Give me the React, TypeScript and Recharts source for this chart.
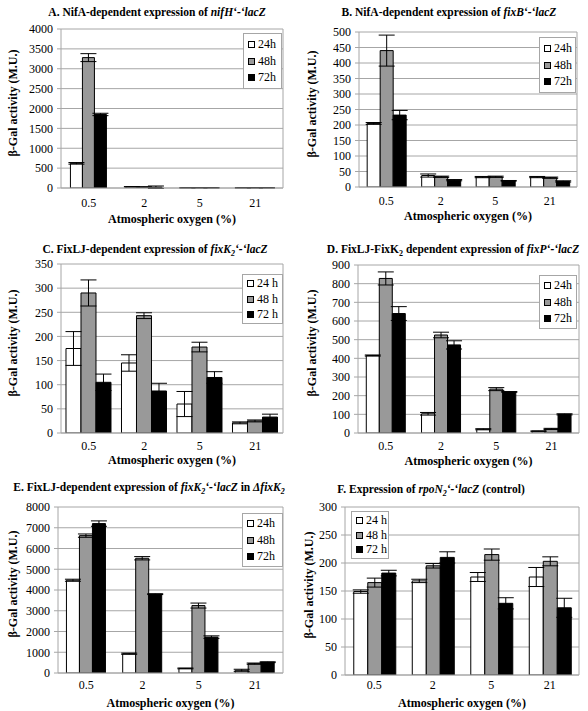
import React from 'react';
import { BarChart, Bar, XAxis, YAxis, CartesianGrid, ErrorBar } from 'recharts';

const categories = ['0.5', '2', '5', '21'];

// Panel A: nifH'-'lacZ
const a24 = [620, 30, 5, 5];
const a48 = [3280, 25, 5, 5];
const a72 = [1850, 20, 5, 5];
const aE24 = [20, 5, 2, 2];
const aE48 = [100, 5, 2, 2];
const aE72 = [30, 30, 2, 2];
const aTicks = [0, 500, 1000, 1500, 2000, 2500, 3000, 3500, 4000];

// Panel B: fixB'-'lacZ
const b24 = [205, 37, 32, 32];
const b48 = [440, 33, 33, 30];
const b72 = [232, 22, 20, 18];
const bE24 = [3, 5, 2, 2];
const bE48 = [50, 2, 2, 2];
const bE72 = [15, 2, 1, 2];
const bTicks = [0, 50, 100, 150, 200, 250, 300, 350, 400, 450, 500];

// Panel C: fixK2'-'lacZ
const c24 = [175, 145, 60, 21];
const c48 = [290, 243, 178, 25];
const c72 = [105, 87, 115, 33];
const cE24 = [35, 17, 26, 2];
const cE48 = [27, 6, 10, 2];
const cE72 = [17, 16, 12, 6];
const cTicks = [0, 50, 100, 150, 200, 250, 300, 350];

// Panel D: fixP'-'lacZ
const d24 = [415, 103, 20, 10];
const d48 = [828, 525, 235, 22];
const d72 = [640, 472, 220, 100];
const dE24 = [3, 7, 3, 1];
const dE48 = [35, 15, 8, 3];
const dE72 = [37, 22, 2, 3];
const dTicks = [0, 100, 200, 300, 400, 500, 600, 700, 800, 900];

// Panel E: fixK2'-'lacZ in deltafixK2
const e24 = [4470, 930, 220, 130];
const e48 = [6620, 5530, 3250, 450];
const e72 = [7200, 3800, 1730, 520];
const eE24 = [50, 30, 20, 50];
const eE48 = [80, 80, 120, 30];
const eE72 = [130, 20, 60, 20];
const eTicks = [0, 1000, 2000, 3000, 4000, 5000, 6000, 7000, 8000];

// Panel F: rpoN2'-'lacZ
const f24 = [149, 168, 175, 175];
const f48 = [165, 195, 215, 203];
const f72 = [182, 210, 128, 120];
const fE24 = [3, 3, 8, 17];
const fE48 = [8, 4, 10, 8];
const fE72 = [5, 10, 10, 17];
const fTicks = [0, 50, 100, 150, 200, 250, 300];

const labelsNoSpace = ['24h', '48h', '72h'];
const labelsSpace = ['24 h', '48 h', '72 h'];

const FONT = "'Liberation Serif', 'Times New Roman', serif";
const GRID = '#a6a6a6';
const COLORS = ['#ffffff', '#999999', '#000000'];

function build(v24: number[], v48: number[], v72: number[], e24_: number[], e48_: number[], e72_: number[]) {
  return categories.map((c, i) => ({
    cat: c,
    h24: v24[i], h48: v48[i], h72: v72[i],
    e24: e24_[i], e48: e48_[i], e72: e72_[i],
  }));
}

type PanelProps = {
  px: number; py: number;
  pl: number; pt: number; pr: number; pb: number;
  ticks: number[];
  data: any[];
  gap: string;
  title: React.ReactNode;
  titleX: number; titleY: number;
  yLabelX: number;
  xTickMargin: number;
  xLabelY: number;
  legend: { l: number; t: number; r: number; b: number; labels: string[] };
};

const tickStyle = { fill: '#000', fontSize: 12, fontFamily: FONT };

function Panel(p: PanelProps) {
  const w = p.pr - p.px + 6;
  const h = p.pb - p.py + 30;
  const max = p.ticks[p.ticks.length - 1];
  return (
    <>
      <div style={{ position: 'absolute', left: p.titleX, top: p.titleY, transform: 'translate(-50%,-50%)', whiteSpace: 'nowrap', fontWeight: 'bold', fontSize: 11.5, lineHeight: '13px' }}>
        {p.title}
      </div>
      <div style={{ position: 'absolute', left: p.px, top: p.py }}>
        <BarChart width={w} height={h} data={p.data} style={{ fontFamily: FONT }} margin={{ top: p.pt - p.py, right: 5, left: 0, bottom: 0 }} barCategoryGap={p.gap} barGap={0}>
          <CartesianGrid horizontal vertical={false} stroke={GRID} />
          <XAxis dataKey="cat" height={30} tickLine={false} tickSize={0} tickMargin={p.xTickMargin} axisLine={{ stroke: GRID }} tick={tickStyle} interval={0} />
          <YAxis width={p.pl - p.px} domain={[0, max]} ticks={p.ticks} interval={0} tickSize={4} tickMargin={4} tickLine={{ stroke: GRID }} axisLine={{ stroke: GRID }} tick={tickStyle} allowDataOverflow />
          <YAxis yAxisId="frame" orientation="right" width={1} tick={false} tickLine={false} axisLine={{ stroke: GRID }} />
          <Bar dataKey="h24" fill={COLORS[0]} stroke="#000" strokeWidth={1} isAnimationActive={false}>
            <ErrorBar dataKey="e24" width={8} stroke="#000" strokeWidth={1} direction="y" />
          </Bar>
          <Bar dataKey="h48" fill={COLORS[1]} stroke="#000" strokeWidth={1} isAnimationActive={false}>
            <ErrorBar dataKey="e48" width={8} stroke="#000" strokeWidth={1} direction="y" />
          </Bar>
          <Bar dataKey="h72" fill={COLORS[2]} stroke="#000" strokeWidth={1} isAnimationActive={false}>
            <ErrorBar dataKey="e72" width={8} stroke="#000" strokeWidth={1} direction="y" />
          </Bar>
        </BarChart>
      </div>
      <div style={{ position: 'absolute', left: p.yLabelX, top: (p.pt + p.pb) / 2 - 6, transform: 'translate(-50%,-50%) rotate(-90deg)', whiteSpace: 'nowrap', fontWeight: 'bold', fontSize: 12, lineHeight: '12px' }}>
        β-Gal activity (M.U.)
      </div>
      <div style={{ position: 'absolute', left: (p.pl + p.pr) / 2, top: p.xLabelY, transform: 'translate(-50%,-50%)', whiteSpace: 'nowrap', fontWeight: 'bold', fontSize: 12, lineHeight: '11px' }}>
        Atmospheric oxygen (%)
      </div>
      <div style={{ position: 'absolute', left: p.legend.l, top: p.legend.t, width: p.legend.r - p.legend.l, height: p.legend.b - p.legend.t, boxSizing: 'border-box', border: `1px solid ${GRID}`, background: '#fff', display: 'flex', flexDirection: 'column', justifyContent: 'space-evenly', paddingLeft: 4, fontSize: 12, lineHeight: '13px' }}>
        {p.legend.labels.map((lab, i) => (
          <div key={lab} style={{ display: 'flex', alignItems: 'center', whiteSpace: 'nowrap' }}>
            <span style={{ display: 'inline-block', width: 7, height: 7, boxSizing: 'border-box', border: '1px solid #000', background: COLORS[i], marginRight: 3 }} />
            <span>{lab}</span>
          </div>
        ))}
      </div>
    </>
  );
}

const sub = (s: string) => <sub style={{ fontSize: 8, verticalAlign: 'sub', lineHeight: 0 }}>{s}</sub>;

export default function App() {
  return (
    <div style={{ position: 'absolute', left: 0, top: 0, width: 588, height: 711, background: '#fff', overflow: 'hidden', fontFamily: FONT, color: '#000' }}>
      <Panel px={0} py={0} pl={61} pt={29} pr={283} pb={188} ticks={aTicks} data={build(a24, a48, a72, aE24, aE48, aE72)} gap="17%"
        title={<>A. NifA-dependent expression of <i>nifH‘-‘lacZ</i></>} titleX={157} titleY={12}
        yLabelX={13} xTickMargin={10} xLabelY={219}
        legend={{ l: 243, t: 33, r: 282, b: 89, labels: labelsNoSpace }} />
      <Panel px={294} py={0} pl={359} pt={32} pr={577} pb={187} ticks={bTicks} data={build(b24, b48, b72, bE24, bE48, bE72)} gap="15%"
        title={<>B. NifA-dependent expression of <i>fixB‘-‘lacZ</i></>} titleX={449} titleY={12}
        yLabelX={312} xTickMargin={9} xLabelY={216}
        legend={{ l: 539, t: 37, r: 576, b: 93, labels: labelsNoSpace }} />
      <Panel px={0} py={237} pl={61} pt={264} pr={283} pb={433} ticks={cTicks} data={build(c24, c48, c72, cE24, cE48, cE72)} gap="9%"
        title={<>C. FixLJ-dependent expression of <i>fixK{sub('2')}‘-‘lacZ</i></>} titleX={155} titleY={249}
        yLabelX={13} xTickMargin={8} xLabelY={460}
        legend={{ l: 242, t: 274, r: 283, b: 324, labels: labelsSpace }} />
      <Panel px={294} py={237} pl={358} pt={265} pr={579} pb={433} ticks={dTicks} data={build(d24, d48, d72, dE24, dE48, dE72)} gap="15%"
        title={<>D. FixLJ-FixK{sub('2')} dependent expression of <i>fixP‘-‘lacZ</i></>} titleX={453} titleY={249}
        yLabelX={312} xTickMargin={8} xLabelY={461}
        legend={{ l: 539, t: 275, r: 577, b: 329, labels: labelsNoSpace }} />
      <Panel px={0} py={474} pl={58} pt={507} pr={283} pb={673} ticks={eTicks} data={build(e24, e48, e72, eE24, eE48, eE72)} gap="15%"
        title={<>E. FixLJ-dependent expression of <i>fixK{sub('2')}‘-‘lacZ</i> in <i>ΔfixK{sub('2')}</i></>} titleX={149} titleY={487}
        yLabelX={13} xTickMargin={7} xLabelY={703}
        legend={{ l: 242, t: 513, r: 283, b: 567, labels: labelsNoSpace }} />
      <Panel px={294} py={474} pl={345} pt={507} pr={579} pb={675} ticks={fTicks} data={build(f24, f48, f72, fE24, fE48, fE72)} gap="15%"
        title={<>F. Expression of <i>rpoN{sub('2')}‘-‘lacZ</i> (control)</>} titleX={431} titleY={489}
        yLabelX={309} xTickMargin={5} xLabelY={703}
        legend={{ l: 351, t: 511, r: 389, b: 559, labels: labelsSpace }} />
    </div>
  );
}
